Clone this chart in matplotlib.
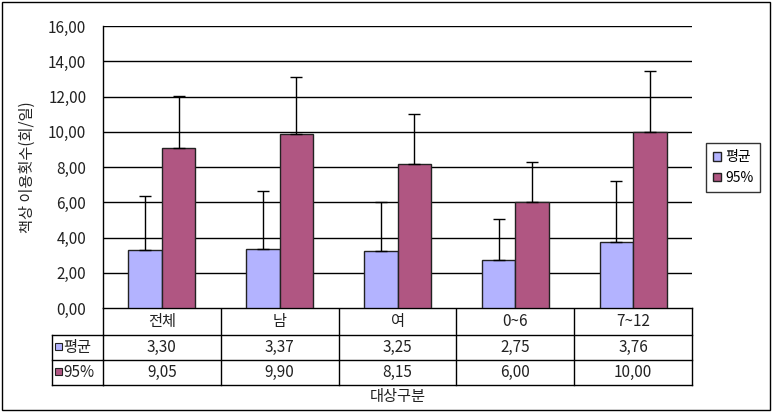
import matplotlib
matplotlib.use("Agg")
import matplotlib.pyplot as plt
import matplotlib.patches as mpatches
from matplotlib.lines import Line2D
from matplotlib.ticker import FuncFormatter, MultipleLocator
from matplotlib.transforms import blended_transform_factory
import numpy as np

plt.rcParams["font.family"] = ["Noto Sans CJK KR", "DejaVu Sans"]

# ── Data ──────────────────────────────────────────────────────────────────────
categories = ["전체", "남", "여", "0~6", "7~12"]
series_names = ["평균", "95%"]
mean_vals = [3.30, 3.37, 3.25, 2.75, 3.76]
p95_vals = [9.05, 9.90, 8.15, 6.00, 10.00]
mean_err = [3.04, 3.25, 2.78, 2.28, 3.43]
p95_err = [2.99, 3.19, 2.84, 2.26, 3.43]

MEAN_COLOR = "#b3b3ff"
P95_COLOR = "#b05682"
FS = 11

W, H = 772, 412
fig = plt.figure(figsize=(W / 100, H / 100), dpi=100)

# plot area in pixels
L, R, T, B = 103, 692, 26, 308
ax = fig.add_axes([L / W, 1 - B / H, (R - L) / W, (B - T) / H])

# overlay in pixel coords for table, border, labels
ov = fig.add_axes([0, 0, 1, 1], zorder=-1)
ov.set_xlim(0, W)
ov.set_ylim(H, 0)
ov.axis("off")

x = np.arange(len(categories))
bw = 0.285
ekw = dict(ecolor="black", elinewidth=1, capsize=4, capthick=1)
ax.bar(x - bw / 2, mean_vals, bw, color=MEAN_COLOR, edgecolor="#222222",
       linewidth=1, yerr=[np.zeros(len(x)), mean_err], error_kw=ekw, zorder=3)
ax.bar(x + bw / 2, p95_vals, bw, color=P95_COLOR, edgecolor="#222222",
       linewidth=1, yerr=[np.zeros(len(x)), p95_err], error_kw=ekw, zorder=3)

ax.set_xlim(-0.5, len(categories) - 0.5)
ax.set_ylim(0, 16)
ax.yaxis.set_major_locator(MultipleLocator(2))
ax.yaxis.set_major_formatter(FuncFormatter(lambda v, p: f"{v:.2f}".replace(".", ",")))
ax.yaxis.grid(True, color="black", linewidth=1)
ax.set_axisbelow(True)
ax.set_xticks([])
for s in ["top", "right", "bottom"]:
    ax.spines[s].set_visible(False)
ax.spines["left"].set_linewidth(1)
ax.tick_params(axis="y", length=0, labelsize=FS, pad=12, labelcolor="#222222")
ax.set_ylabel("책상 이용횟수(회/일)", fontsize=FS, labelpad=9, color="#222222")

# ── Data table ────────────────────────────────────────────────────────────────
tr = blended_transform_factory(ax.transData, ov.transData)
rows_y = [308, 335, 360, 385]
lk = dict(color="black", linewidth=1, transform=tr, clip_on=False)
x0, x1 = -0.5, len(categories) - 0.5
ov.add_line(Line2D([x0, x1], [308, 308], **lk))
for yy in rows_y[1:]:
    ov.add_line(Line2D([x0, x1], [yy, yy], **lk))
    ov.add_line(Line2D([52, L], [yy, yy], color="black", linewidth=1))
ov.add_line(Line2D([52, 52], [335, 385], color="black", linewidth=1))
for b in np.arange(len(categories) + 1) - 0.5:
    ov.add_line(Line2D([b, b], [308, 385], **lk))

tk = dict(transform=tr, ha="center", va="center", fontsize=FS, color="#222222")
for i, c in enumerate(categories):
    ov.text(i, (rows_y[0] + rows_y[1]) / 2, c, **tk)
    ov.text(i, (rows_y[1] + rows_y[2]) / 2, f"{mean_vals[i]:.2f}".replace(".", ","), **tk)
    ov.text(i, (rows_y[2] + rows_y[3]) / 2, f"{p95_vals[i]:.2f}".replace(".", ","), **tk)

for j, (name, col) in enumerate(zip(series_names, [MEAN_COLOR, P95_COLOR])):
    yc = (rows_y[j + 1] + rows_y[j + 2]) / 2
    ov.add_patch(mpatches.Rectangle((55, yc - 5), 7, 7, facecolor=col, edgecolor="#222222", linewidth=0.8))
    ov.text(63, yc, name, ha="left", va="center", fontsize=FS, color="#222222")

ov.text((L + R) / 2, 396, "대상구분", ha="center", va="center", fontsize=FS, color="#222222")

# outer border
ov.add_patch(mpatches.Rectangle((2, 2), 768, 408, fill=False, edgecolor="black", linewidth=1))

# ── Legend ────────────────────────────────────────────────────────────────────
handles = [mpatches.Patch(facecolor=MEAN_COLOR, edgecolor="#222222", label=series_names[0]),
           mpatches.Patch(facecolor=P95_COLOR, edgecolor="#222222", label=series_names[1])]
leg = fig.legend(handles=handles, loc="center", bbox_to_anchor=(733 / W, 1 - 167.5 / H),
                 fontsize=FS - 1, frameon=True, fancybox=False, handlelength=0.6,
                 handleheight=0.6, handletextpad=0.3, borderpad=0.5, labelspacing=0.5)
leg.get_frame().set_edgecolor("black")
leg.get_frame().set_linewidth(1)

fig.savefig("out.png", dpi=100)
